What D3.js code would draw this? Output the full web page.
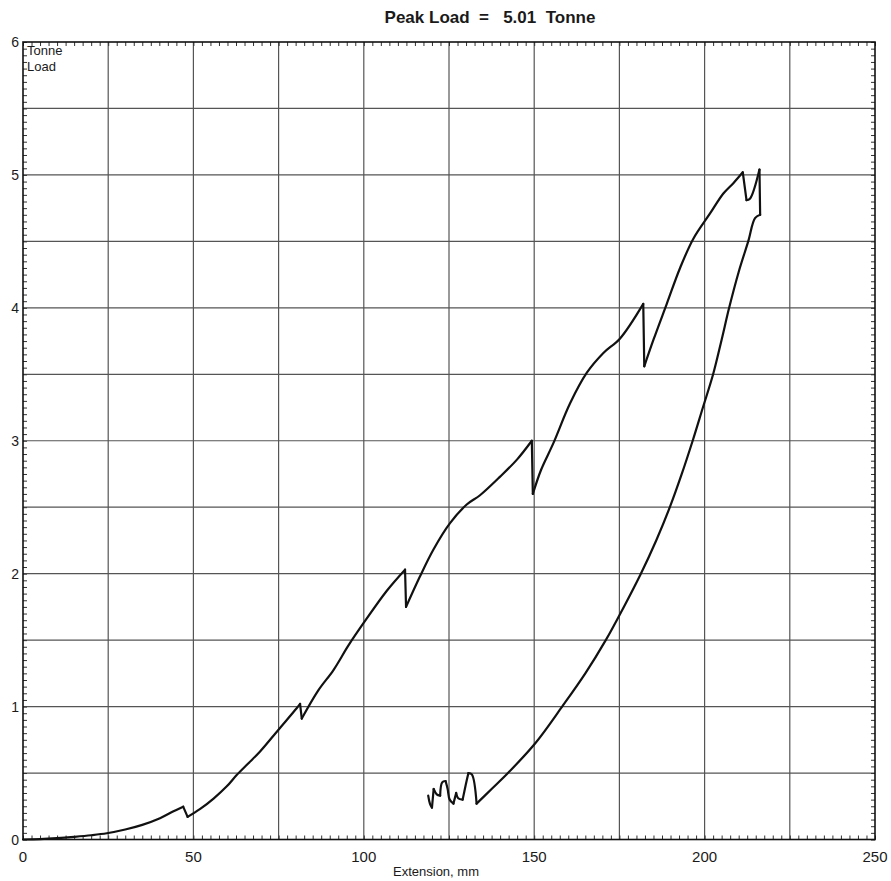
<!DOCTYPE html>
<html>
<head>
<meta charset="utf-8">
<script src="https://cdn.jsdelivr.net/npm/d3@7"></script>
<style>
  body { margin: 0; background: #fff; }
  text { font-family: "Liberation Sans", Arial, sans-serif; fill: #1a1a1a; }
</style>
</head>
<body>
<div id="viz"></div>
<script>
const title = "Peak Load  =   5.01  Tonne";
const xLabel = "Extension, mm";
const yLabelLines = ["Tonne", "Load"];
const xTicks = [0, 50, 100, 150, 200, 250];
const yTicks = [0, 1, 2, 3, 4, 5, 6];

// loading branch: [extension mm, load tonne]
const loading = [
  [0, 0], [5, 0.003], [10, 0.01], [15, 0.02], [20, 0.032], [24.6, 0.047],
  [30, 0.075], [35, 0.11], [40.2, 0.16], [44, 0.21], [47.0, 0.247], [48.3, 0.17],
  [52, 0.23], [56, 0.31], [59.8, 0.40], [62.7, 0.485], [66, 0.57], [69.5, 0.66],
  [74.9, 0.824], [80.3, 0.987], [81.3, 1.02], [81.8, 0.91], [86.6, 1.12],
  [91.1, 1.275], [95.5, 1.46], [99.9, 1.627], [106.7, 1.87], [112.1, 2.03],
  [112.4, 1.75], [116.5, 1.98], [120.4, 2.18], [125.3, 2.38], [130.2, 2.52],
  [134.1, 2.59], [140, 2.73], [145, 2.86], [149.3, 3.0], [149.6, 2.6],
  [152, 2.78], [155.6, 2.98], [160.5, 3.28], [165.4, 3.51], [170.3, 3.66],
  [175.2, 3.77], [182.0, 4.03], [182.3, 3.56], [185, 3.76], [188.9, 4.03],
  [192.8, 4.3], [196.7, 4.52], [201.6, 4.71], [205.5, 4.86], [208.5, 4.94],
  [211.2, 5.02], [212.3, 4.81], [213.3, 4.82], [216.1, 5.04], [216.3, 4.7]
];

// unloading branch
const unloading = [
  [216.3, 4.7], [214.8, 4.675], [212.8, 4.5], [210, 4.27], [207.2, 4.0],
  [205, 3.76], [202.5, 3.5], [199.5, 3.25], [196.5, 3.0], [193.3, 2.75],
  [189.8, 2.5], [185.8, 2.25], [181.3, 2.0], [176.3, 1.75], [171.0, 1.5],
  [165, 1.25], [158.2, 1.0], [150.5, 0.73], [142.3, 0.5], [137.5, 0.38],
  [133.1, 0.27], [131.7, 0.49], [130.7, 0.5], [129.9, 0.41], [129.0, 0.3],
  [127.7, 0.31], [127.1, 0.35], [126.3, 0.27], [125.2, 0.3], [124.6, 0.38],
  [124.0, 0.44], [123.0, 0.43], [122.4, 0.33], [121.4, 0.34], [120.5, 0.38],
  [120.0, 0.24], [119.4, 0.27], [118.9, 0.33]
];

const width = 891, height = 881;
const margin = {left: 23, right: 16, top: 42, bottom: 41.5};
const w = width - margin.left - margin.right,
      h = height - margin.top - margin.bottom;

const svg = d3.select("#viz").append("svg")
  .attr("width", width).attr("height", height);

const g = svg.append("g").attr("transform", `translate(${margin.left},${margin.top})`);

const x = d3.scaleLinear().domain([0, 250]).range([0, w]);
const y = d3.scaleLinear().domain([0, 6]).range([h, 0]);

// grid
g.append("g").selectAll("line").data(d3.range(25, 250, 25)).join("line")
  .attr("x1", d => x(d)).attr("x2", d => x(d)).attr("y1", 0).attr("y2", h)
  .style("stroke", "#555").style("stroke-width", 1.2);
g.append("g").selectAll("line").data(d3.range(0.5, 6, 0.5)).join("line")
  .attr("y1", d => y(d)).attr("y2", d => y(d)).attr("x1", 0).attr("x2", w)
  .style("stroke", "#555").style("stroke-width", 1.2);

// minor ticks on all four sides, pointing inward
const xMinor = d3.range(0, 250.01, 2.5);
const yMinor = d3.range(0, 6.001, 0.05);
g.append("g").call(d3.axisBottom(x).tickValues(xMinor).tickSize(-4).tickFormat(""))
  .attr("transform", `translate(0,${h})`);
g.append("g").call(d3.axisTop(x).tickValues(xMinor).tickSize(-4).tickFormat(""));
g.append("g").call(d3.axisLeft(y).tickValues(yMinor).tickSize(-4).tickFormat(""));
g.append("g").call(d3.axisRight(y).tickValues(yMinor).tickSize(-4).tickFormat(""))
  .attr("transform", `translate(${w},0)`);
g.selectAll(".domain").remove();
g.selectAll(".tick line").style("stroke", "#333").style("stroke-width", 1);

// frame
g.append("rect").attr("width", w).attr("height", h)
  .style("fill", "none").style("stroke", "#111").style("stroke-width", 1.6);

// tick labels
g.append("g").selectAll("text").data(xTicks).join("text")
  .attr("x", d => x(d)).attr("y", h + 22)
  .attr("text-anchor", "middle").style("font-size", "15px")
  .text(d => d);
g.append("g").selectAll("text").data(yTicks).join("text")
  .attr("x", -4).attr("y", d => y(d) + 5)
  .attr("text-anchor", "end").style("font-size", "14px")
  .text(d => d);

// axis titles
svg.append("text").attr("x", 436).attr("y", 876)
  .attr("text-anchor", "middle").style("font-size", "13px").text(xLabel);
g.append("g").selectAll("text").data(yLabelLines).join("text")
  .attr("x", 4).attr("y", (d, i) => 13 + i * 16)
  .style("font-size", "13px").text(d => d);

svg.append("text").attr("x", 490).attr("y", 23)
  .attr("text-anchor", "middle").attr("xml:space", "preserve")
  .style("white-space", "pre")
  .style("font-size", "17px").style("font-weight", "bold").text(title);

// curve: smooth runs, sharp corners where the trace reverses direction
const pts = loading.concat(unloading.slice(1));
const runs = [];
let run = [pts[0]];
for (let i = 1; i < pts.length; i++) {
  run.push(pts[i]);
  const nxt = pts[i + 1];
  if (!nxt) break;
  const dy1 = pts[i][1] - pts[i - 1][1], dy2 = nxt[1] - pts[i][1];
  const dx1 = pts[i][0] - pts[i - 1][0], dx2 = nxt[0] - pts[i][0];
  if (dy1 * dy2 < 0 || dx1 * dx2 < 0) {
    runs.push(run);
    run = [pts[i]];
  }
}
runs.push(run);

const line = d3.line().x(d => x(d[0])).y(d => y(d[1]))
  .curve(d3.curveCatmullRom.alpha(0.5));
g.append("g").selectAll("path").data(runs).join("path")
  .attr("d", line)
  .style("fill", "none").style("stroke", "#111").style("stroke-width", 2.2)
  .style("stroke-linejoin", "round").style("stroke-linecap", "round");
</script>
</body>
</html>
